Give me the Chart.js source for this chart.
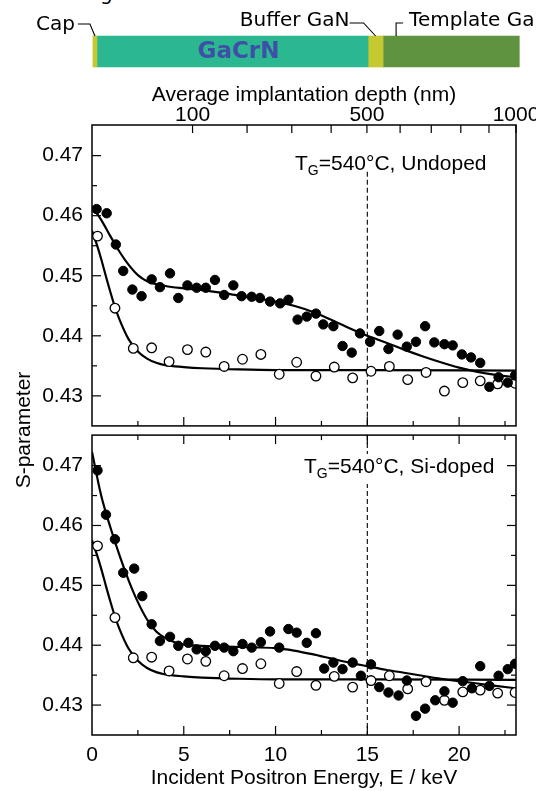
<!DOCTYPE html>
<html>
<head>
<meta charset="utf-8">
<script src="https://cdn.jsdelivr.net/npm/chart.js@4.4.1/dist/chart.umd.min.js"></script>
<style>
  body { margin:0; background:#fff; width:536px; height:791px; position:relative; overflow:hidden;
         font-family:"Liberation Sans", Arial, sans-serif; }
  canvas { position:absolute; left:0; }
  .txt { position:absolute; white-space:nowrap; color:#000; }
  .note { font-size:21px; line-height:24px; }
  .note span { font-size:14px; position:relative; top:5px; }
</style>
</head>
<body>
<div class="txt" style="left:100px;top:-19px;font:20px 'DejaVu Sans'">g</div>
<canvas id="layers" width="536" height="80" style="top:0"></canvas>
<canvas id="topPanel" width="536" height="362" style="top:70px"></canvas>
<canvas id="botPanel" width="536" height="362" style="top:429px"></canvas>
<div class="txt" style="left:-77px;top:418px;width:200px;text-align:center;font-size:21px;line-height:24px;transform:rotate(-90deg)">S-parameter</div>
<div class="txt note" style="left:295px;top:151px">T<span>G</span>=540°C, Undoped</div>
<div class="txt note" style="left:304px;top:454px;background:#fff;padding-bottom:4px">T<span>G</span>=540°C, Si-doped</div>
<script>
// layer stack (energy scale, keV)
const layers = ['Cap', 'GaCrN', 'Buffer GaN', 'Template GaN'];
const layerStartE = [0.05, 0.27, 15.04, 15.86];
const layerEndE = [0.27, 15.04, 15.86, 23.28];
const layerColors = ['#c6c831', '#2bb890', '#c6c831', '#5f9340'];

// top axis: average implantation depth (nm)
const depthTicks = [100, 200, 300, 400, 500, 600, 700, 800, 900, 1000];
const depthLabels = [100, 500, 1000];

const xTickVals = [0, 5, 10, 15, 20];
const yTickVals = [0.43, 0.44, 0.45, 0.46, 0.47];

// undoped GaCrN (filled)
const undopedE = [0.25,0.8,1.3,1.7,2.2,2.7,3.25,3.7,4.25,4.7,5.2,5.7,6.2,6.7,7.2,7.7,8.15,8.7,9.15,9.7,
  10.25,10.7,11.2,11.7,12.2,12.6,13.15,13.65,14.15,14.6,15.15,15.65,16.15,16.65,17.15,17.65,18.15,18.65,19.2,19.65,
  20.15,20.65,21.15,21.65,22.15,22.65,23.05];
const undopedS = [0.4611,0.4604,0.4552,0.4508,0.4477,0.4466,0.4494,0.4481,0.4504,0.4463,0.4484,0.4480,0.4480,0.4493,0.4468,0.4484,0.4466,0.4465,0.4463,0.4457,
  0.4454,0.4460,0.4427,0.4432,0.4437,0.4419,0.4416,0.4383,0.4372,0.4404,0.4390,0.4408,0.4378,0.4402,0.4382,0.4390,0.4416,0.4389,0.4386,0.4384,
  0.4369,0.4364,0.4355,0.4315,0.4331,0.4322,0.4334];

// Si-doped GaCrN (filled)
const siE = [0.3,0.76,1.25,1.7,2.3,2.74,3.25,3.7,4.25,4.7,5.25,5.7,6.2,6.7,7.2,7.7,8.2,8.7,9.2,9.7,
  10.2,10.7,11.15,11.7,12.2,12.65,13.15,13.65,14.2,14.65,15.2,15.65,16.15,16.7,17.15,17.65,18.15,18.7,19.2,19.65,
  20.2,20.7,21.15,21.65,22.15,22.65,23.05];
const siS = [0.4692,0.4618,0.4577,0.4521,0.4528,0.4482,0.4435,0.4407,0.4414,0.4399,0.4404,0.4393,0.4390,0.4399,0.4396,0.4390,0.4402,0.4396,0.4405,0.4423,
  0.4396,0.4427,0.4421,0.4404,0.4420,0.4361,0.4371,0.4360,0.4371,0.4349,0.4368,0.4330,0.4321,0.4316,0.4341,0.4282,0.4294,0.4308,0.4323,0.4304,
  0.4340,0.4328,0.4365,0.4332,0.4349,0.4360,0.4369];

// reference GaN (open), same in both panels
const refE = [0.3,1.25,2.25,3.25,4.2,5.2,6.2,7.2,8.2,9.2,10.2,11.15,12.2,13.2,14.2,15.2,16.2,17.2,18.2,19.2,20.2,21.15,22.1,23.05];
const refS = [0.4566,0.4446,0.4379,0.4380,0.4357,0.4377,0.4373,0.4349,0.4361,0.4369,0.4336,0.4356,0.4333,0.4348,0.4330,0.4341,0.4349,0.4327,0.4339,0.4308,0.4322,0.4325,0.4320,0.4321];

// fitted curves
const undopedFitE = [0,0.5,1,1.5,2,2.5,3,4,5,6,7,8,9,10,11,12,13,14,15,16,17,18,19,20,21,22,23.1];
const undopedFitS = [0.4615,0.4593,0.4566,0.4540,0.4518,0.4501,0.4491,0.4483,0.4479,0.4476,0.4472,0.4467,0.4462,0.4457,0.4450,0.4440,0.4427,0.4413,0.4400,0.4389,0.4377,0.4366,0.4356,0.4347,0.4340,0.4335,0.4331];
const siFitE = [0,0.5,1,1.5,2,2.5,3,3.5,4,4.5,5,6,8,10,11,12,13,14,15,16,17,18,19,20,21,22,23.1];
const siFitS = [0.4723,0.4650,0.4597,0.4550,0.4508,0.4472,0.4443,0.4423,0.4412,0.4405,0.4401,0.4399,0.4397,0.4395,0.4391,0.4385,0.4378,0.4371,0.4365,0.4359,0.4354,0.4349,0.4344,0.4340,0.4336,0.4332,0.4328];
const refFitE = [0,0.25,0.5,0.75,1,1.25,1.5,2,2.5,3,3.5,4,5,6,8,10,15,23.1];
const refFitS = [0.4575,0.4553,0.4528,0.4500,0.4473,0.4448,0.4427,0.4394,0.4374,0.4362,0.4355,0.4351,0.4348,0.4346,0.4344,0.4343,0.4343,0.4342];

const E_MAX = 23.1;
const S_MIN = 0.425, S_MAX = 0.4751;
const boundaryE = 15;

// mean implantation depth z = A * E^1.6 (nm), E in keV
const depthToE = d => Math.pow(d / 6.58, 1 / 1.6);
const pts = (xs, ys) => xs.map((v, i) => ({ x: v, y: ys[i] }));
// keep tick labels from shrinking the plot area
const noPad = s => { s.paddingTop = 0; s.paddingBottom = 0; s.paddingLeft = 0; s.paddingRight = 0; };

Chart.defaults.font.family = '"Liberation Sans", Arial, sans-serif';
Chart.defaults.color = '#000';

const frameTicks = {
  id: 'frameTicks',
  afterDraw(chart, args, opts) {
    const { ctx, chartArea: a, scales } = chart;
    const x = scales.x, y = scales.y;
    ctx.save();
    ctx.strokeStyle = '#000';
    ctx.lineWidth = 1.2;
    const seg = (x1, y1, x2, y2) => { ctx.beginPath(); ctx.moveTo(x1, y1); ctx.lineTo(x2, y2); ctx.stroke(); };
    for (let i = 1; i * 2.5 < x.max; i++) {
      const px = x.getPixelForValue(i * 2.5);
      const len = i % 2 === 0 ? 9 : 5;
      seg(px, a.bottom, px, a.bottom - len);
      if (opts.topEnergy) seg(px, a.top, px, a.top + len);
    }
    if (opts.depth) {
      scales.xd.ticks.forEach(t => {
        const px = scales.xd.getPixelForValue(t.value);
        seg(px, a.top, px, a.top + 8);
      });
    }
    for (let k = 86; k <= 94; k++) {
      const py = y.getPixelForValue(k * 0.005);
      const len = k % 2 === 0 ? 9 : 5;
      seg(a.left, py, a.left + len, py);
      if (opts.right) seg(a.right, py, a.right - len, py);
    }
    ctx.lineWidth = 1.5;
    ctx.strokeRect(a.left, a.top, a.right - a.left, a.bottom - a.top);
    ctx.restore();
  }
};

function panelDatasets(fillE, fillS, fitE, fitS, dashTop) {
  return [
    { data: pts(fillE, fillS), backgroundColor: '#000', borderColor: '#000', pointRadius: 4.7, order: 1 },
    { data: pts(refE, refS), backgroundColor: '#fff', borderColor: '#000', borderWidth: 1.3, pointRadius: 4.8, order: 2 },
    { data: pts(fitE, fitS), showLine: true, borderColor: '#000', borderWidth: 2.2, pointRadius: 0, cubicInterpolationMode: 'monotone', order: 3 },
    { data: pts(refFitE, refFitS), showLine: true, borderColor: '#000', borderWidth: 2.2, pointRadius: 0, cubicInterpolationMode: 'monotone', order: 3 },
    { data: [{ x: boundaryE, y: dashTop }, { x: boundaryE, y: S_MIN }], showLine: true, borderColor: '#000', borderWidth: 1.1, borderDash: [5, 3], pointRadius: 0, order: 4 }
  ];
}

const yScale = {
  min: S_MIN, max: S_MAX,
  afterBuildTicks: s => { s.ticks = yTickVals.map(v => ({ value: v })); },
  afterFit: s => { s.width = 92; noPad(s); },
  grid: { display: false, drawTicks: false },
  border: { display: false },
  ticks: { padding: 9, font: { size: 21 }, callback: v => v.toFixed(2) }
};

const baseOpts = {
  responsive: false,
  animation: false,
  devicePixelRatio: 1,
  plugins: { legend: { display: false }, tooltip: { enabled: false } }
};

// layer diagram
new Chart(document.getElementById('layers'), {
  type: 'bar',
  data: {
    labels: [''],
    datasets: layers.map((name, i) => ({
      label: name,
      data: [[layerStartE[i], layerEndE[i]]],
      backgroundColor: layerColors[i],
      grouped: false,
      barPercentage: 1,
      categoryPercentage: 1,
      clip: false
    }))
  },
  options: {
    ...baseOpts,
    indexAxis: 'y',
    layout: { padding: { left: 92, right: 20, top: 36, bottom: 13 } },
    scales: {
      x: { display: false, min: 0, max: E_MAX },
      y: { display: false }
    }
  },
  plugins: [{
    id: 'layerLabels',
    afterDraw(chart) {
      const { ctx, chartArea: a, scales: { x } } = chart;
      const mid = i => x.getPixelForValue((layerStartE[i] + layerEndE[i]) / 2);
      const poly = p => { ctx.beginPath(); ctx.moveTo(p[0][0], p[0][1]); p.slice(1).forEach(q => ctx.lineTo(q[0], q[1])); ctx.stroke(); };
      ctx.save();
      ctx.strokeStyle = '#000'; ctx.fillStyle = '#000'; ctx.lineWidth = 1.1;
      ctx.font = '20px "DejaVu Sans"';
      ctx.textBaseline = 'middle';
      const cx = mid(0);
      poly([[cx - 17, a.top - 12], [cx - 5, a.top - 12], [cx, a.top]]);
      ctx.textAlign = 'right';
      ctx.fillText(layers[0], cx - 20, a.top - 11);
      const bx = mid(2);
      poly([[bx - 26, a.top - 13], [bx - 12, a.top - 13], [bx, a.top]]);
      ctx.fillText(layers[2], bx - 26, a.top - 15);
      const tx = x.getPixelForValue(layerStartE[3]) + 13;
      poly([[tx, a.top], [tx, a.top - 13], [tx + 7, a.top - 13]]);
      ctx.textAlign = 'left';
      ctx.fillText(layers[3], tx + 13, a.top - 15);
      ctx.font = 'bold 23px "DejaVu Sans"';
      ctx.fillStyle = '#3f4ea6';
      ctx.textAlign = 'center';
      ctx.fillText(layers[1], mid(1) + 6, (a.top + a.bottom) / 2 + 1);
      ctx.restore();
    }
  }]
});

// undoped panel
new Chart(document.getElementById('topPanel'), {
  type: 'scatter',
  data: { datasets: panelDatasets(undopedE, undopedS, undopedFitE, undopedFitS, 0.4673) },
  options: {
    ...baseOpts,
    layout: { padding: { left: 0, right: 20, top: 0, bottom: 2 } },
    plugins: { ...baseOpts.plugins, frameTicks: { depth: true, right: false } },
    scales: {
      x: { type: 'linear', min: 0, max: E_MAX, display: false },
      xd: {
        type: 'linear', position: 'top', min: 0, max: E_MAX,
        afterBuildTicks: s => { s.ticks = depthTicks.map(d => ({ value: depthToE(d) })); },
        afterFit: s => { s.height = 55; noPad(s); },
        grid: { display: false, drawTicks: false },
        border: { display: false },
        ticks: {
          autoSkip: false, maxRotation: 0, padding: -3, font: { size: 21 },
          callback: (v, i) => depthLabels.includes(depthTicks[i]) ? String(depthTicks[i]) : ''
        },
        title: { display: true, text: 'Average implantation depth (nm)', font: { size: 21 }, padding: { top: 13, bottom: 0 } }
      },
      y: yScale
    }
  },
  plugins: [frameTicks]
});

// Si-doped panel
new Chart(document.getElementById('botPanel'), {
  type: 'scatter',
  data: { datasets: panelDatasets(siE, siS, siFitE, siFitS, S_MAX) },
  options: {
    ...baseOpts,
    layout: { padding: { left: 0, right: 20, top: 1, bottom: 0 } },
    plugins: { ...baseOpts.plugins, frameTicks: { topEnergy: true, right: true } },
    scales: {
      x: {
        type: 'linear', min: 0, max: E_MAX,
        afterBuildTicks: s => { s.ticks = xTickVals.map(v => ({ value: v })); },
        afterFit: s => { s.height = 56; noPad(s); },
        grid: { display: false, drawTicks: false },
        border: { display: false },
        ticks: { padding: 8, maxRotation: 0, font: { size: 21 } },
        title: { display: true, text: 'Incident Positron Energy, E / keV', font: { size: 21 }, padding: { top: 0, bottom: 0 } }
      },
      y: yScale
    }
  },
  plugins: [frameTicks]
});
</script>
</body>
</html>
